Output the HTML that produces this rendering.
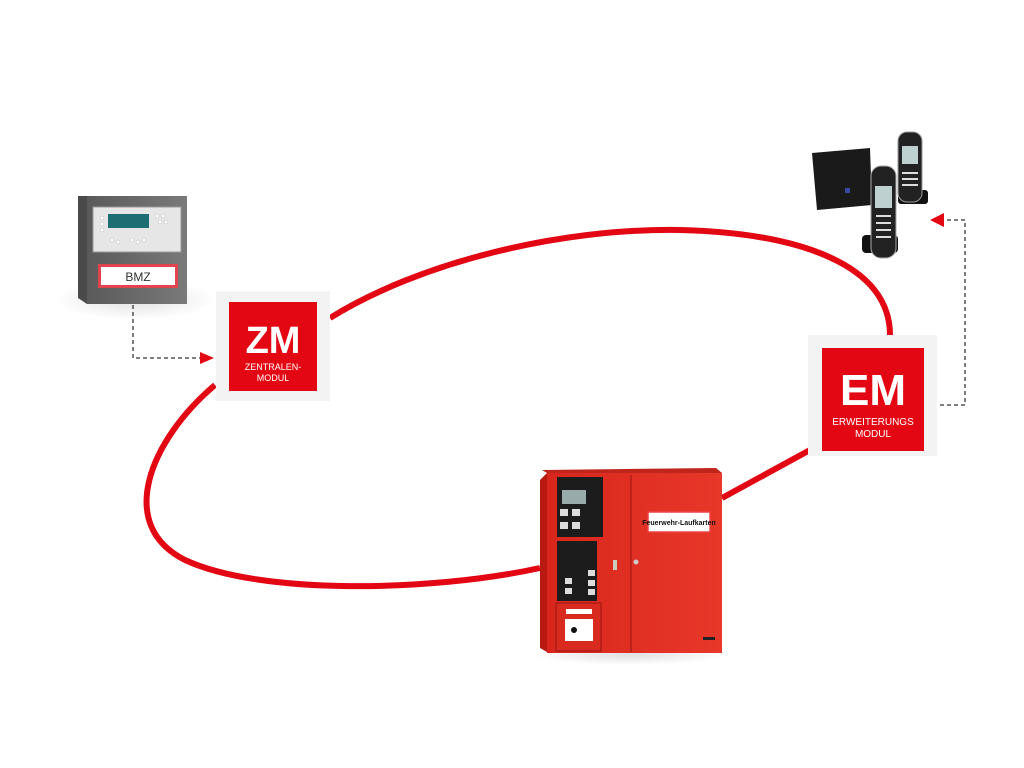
<!DOCTYPE html>
<html><head><meta charset="utf-8"><style>
html,body{margin:0;padding:0;background:#fff;width:1024px;height:768px;overflow:hidden;font-family:"Liberation Sans",sans-serif;}
</style></head><body>
<svg width="1024" height="768" viewBox="0 0 1024 768" xmlns="http://www.w3.org/2000/svg">
<defs>
<radialGradient id="sh" cx="0.5" cy="0.5" r="0.5"><stop offset="0" stop-color="#000" stop-opacity="0.12"/><stop offset="1" stop-color="#000" stop-opacity="0"/></radialGradient>
<linearGradient id="box" x1="0" x2="1"><stop offset="0" stop-color="#5a5a5a"/><stop offset="1" stop-color="#7a7a7a"/></linearGradient>
<linearGradient id="rp" x1="0" x2="1"><stop offset="0" stop-color="#d8261c"/><stop offset="1" stop-color="#e8382a"/></linearGradient>
</defs>
<!-- loop -->
<g fill="none" stroke="#e30613" stroke-width="6" stroke-linecap="butt">
<path d="M330,318 C420,262 560,228 680,230 C800,233 890,265 890,335"/>
<path d="M215,385 C150,440 115,525 185,560 C260,595 430,592 540,568"/>
<path d="M810,450 L722,498"/>
</g>
<!-- dashed connectors -->
<g fill="none" stroke="#555" stroke-width="1.5" stroke-dasharray="4,3">
<path d="M133,305 V358 H202"/>
<path d="M940,405 H965 V220 H945"/>
</g>
<polygon points="214,358 200,352 200,364" fill="#e30613"/>
<polygon points="930,220 944,213 944,227" fill="#e30613"/>
<!-- BMZ -->
<ellipse cx="135" cy="300" rx="80" ry="20" fill="url(#sh)"/>
<polygon points="78,196 87,196 87,304 78,298" fill="#4a4a4a"/>
<rect x="87" y="196" width="100" height="108" fill="url(#box)"/>
<rect x="93" y="207" width="88" height="45" fill="#e6e6e6" stroke="#999"/>
<rect x="108" y="214" width="41" height="14" fill="#1d6e72"/>
<g fill="#fff" stroke="#bbb" stroke-width="0.5">
<circle cx="102" cy="218" r="2"/><circle cx="102" cy="224" r="2"/><circle cx="102" cy="230" r="2"/>
<circle cx="157" cy="216" r="2"/><circle cx="163" cy="216" r="2"/><circle cx="160" cy="222" r="2"/><circle cx="166" cy="222" r="2"/>
<circle cx="112" cy="240" r="2"/><circle cx="118" cy="242" r="2"/><circle cx="132" cy="240" r="2"/><circle cx="138" cy="242" r="2"/><circle cx="144" cy="240" r="2"/>
</g>
<rect x="98" y="264" width="80" height="24" fill="#e0454f"/>
<rect x="101" y="267" width="74" height="18" fill="#fff"/>
<text x="138" y="281" font-size="12" text-anchor="middle" fill="#333">BMZ</text>
<!-- ZM -->
<rect x="216" y="291" width="114" height="110" fill="#f3f3f3"/>
<rect x="229" y="302" width="88" height="89" fill="#e30613"/>
<text x="273" y="353" font-size="38" font-weight="bold" text-anchor="middle" fill="#fff">ZM</text>
<text x="273" y="370" font-size="9" text-anchor="middle" fill="#fff">ZENTRALEN-</text>
<text x="273" y="381" font-size="9" text-anchor="middle" fill="#fff">MODUL</text>
<!-- EM -->
<rect x="808" y="335" width="129" height="121" fill="#f3f3f3"/>
<rect x="822" y="348" width="102" height="103" fill="#e30613"/>
<text x="873" y="405" font-size="44" font-weight="bold" text-anchor="middle" fill="#fff">EM</text>
<text x="873" y="425" font-size="10" text-anchor="middle" fill="#fff">ERWEITERUNGS</text>
<text x="873" y="437" font-size="10" text-anchor="middle" fill="#fff">MODUL</text>
<!-- phones -->
<polygon points="812,153 870,148 872,205 817,210" fill="#1a1a1a"/>
<rect x="845" y="188" width="5" height="5" fill="#3a4aa0"/>
<rect x="898" y="190" width="30" height="14" rx="3" fill="#111"/>
<rect x="898" y="132" width="24" height="70" rx="9" fill="#222" stroke="#999"/>
<rect x="902" y="146" width="16" height="18" fill="#bfd0d0"/>
<rect x="862" y="235" width="36" height="18" rx="4" fill="#111"/>
<rect x="871" y="166" width="25" height="92" rx="10" fill="#222" stroke="#aaa"/>
<rect x="875" y="186" width="17" height="22" fill="#bfd0d0"/>
<g fill="#ddd"><rect x="876" y="215" width="15" height="2"/><rect x="876" y="222" width="15" height="2"/><rect x="876" y="229" width="15" height="2"/><rect x="876" y="236" width="15" height="2"/><rect x="902" y="172" width="16" height="2"/><rect x="902" y="178" width="16" height="2"/><rect x="902" y="184" width="16" height="2"/></g>
<!-- panel -->
<ellipse cx="630" cy="655" rx="100" ry="10" fill="url(#sh)"/>
<polygon points="540,480 547,473 547,652 540,648" fill="#b81a12"/>
<rect x="547" y="473" width="175" height="180" fill="url(#rp)"/>
<polygon points="722,473 716,468 542,470 547,473" fill="#c0251c"/>
<line x1="631" y1="475" x2="631" y2="652" stroke="#9a1510"/>
<rect x="557" y="477" width="46" height="60" fill="#1c1c1c"/>
<rect x="562" y="490" width="24" height="14" fill="#9aa"/>
<g fill="#ddd"><rect x="560" y="509" width="8" height="7"/><rect x="572" y="509" width="8" height="7"/><rect x="560" y="522" width="8" height="7"/><rect x="572" y="522" width="8" height="7"/></g>
<rect x="557" y="541" width="40" height="60" fill="#1c1c1c"/>
<g fill="#ddd"><rect x="565" y="578" width="7" height="6"/><rect x="565" y="588" width="7" height="6"/><rect x="588" y="570" width="7" height="6"/><rect x="588" y="580" width="7" height="6"/><rect x="588" y="589" width="7" height="6"/></g>
<rect x="556" y="603" width="45" height="48" fill="#d82a1f" stroke="#9a1510"/>
<rect x="565" y="619" width="28" height="22" fill="#fff"/>
<circle cx="574" cy="630" r="3" fill="#111"/>
<rect x="566" y="609" width="26" height="5" fill="#fff"/>
<rect x="648" y="512" width="62" height="20" fill="#fff" stroke="#e44" stroke-width="1.5"/>
<text x="679" y="525" font-size="7" font-weight="bold" text-anchor="middle" fill="#111">Feuerwehr-Laufkarten</text>
<rect x="613" y="560" width="4" height="10" fill="#ccb"/>
<circle cx="636" cy="562" r="2.5" fill="#ccc"/>
<rect x="703" y="637" width="12" height="3" fill="#222"/>
</svg>
</body></html>
